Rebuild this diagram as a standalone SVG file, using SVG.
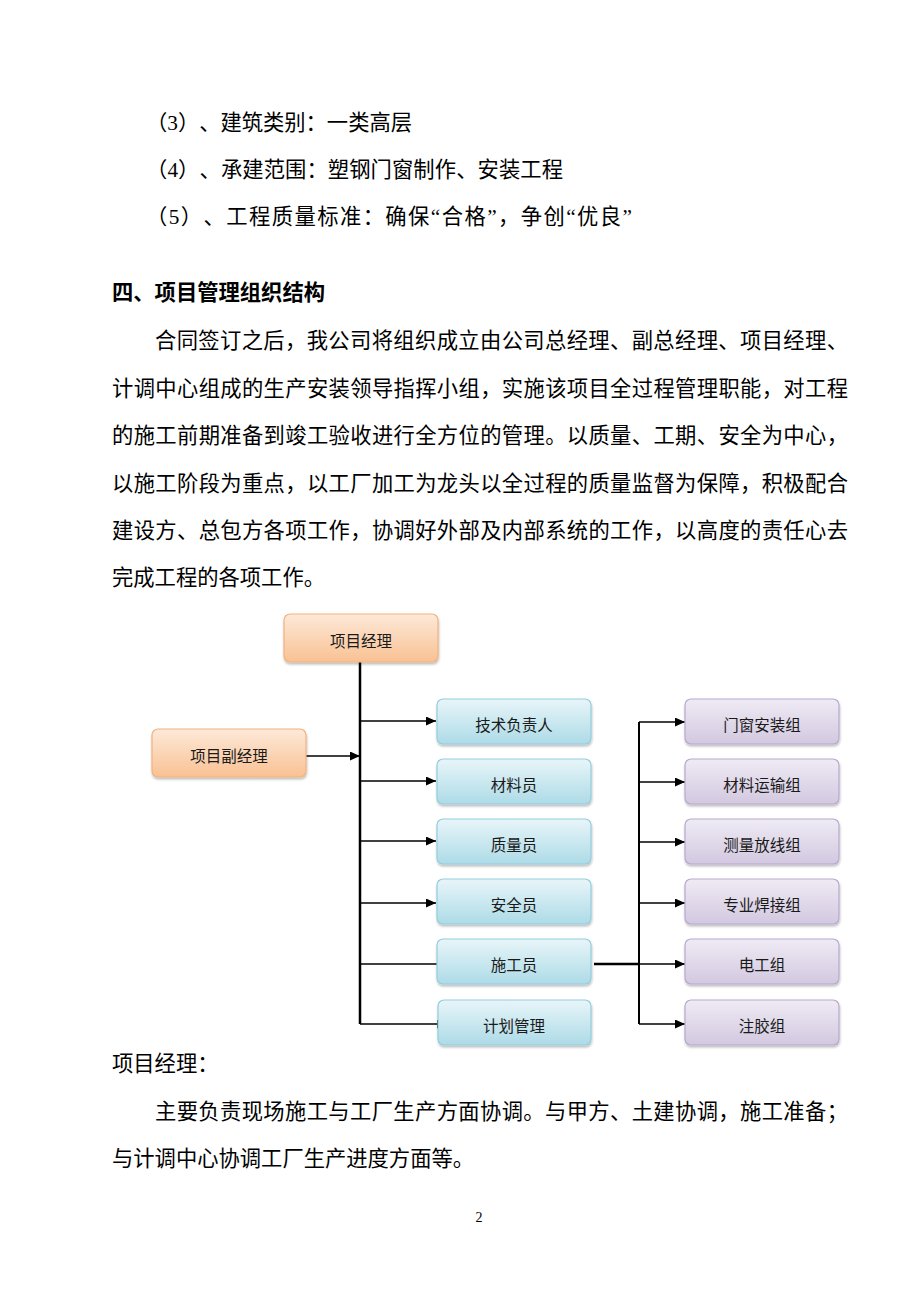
<svg xmlns="http://www.w3.org/2000/svg" width="920" height="1302" viewBox="0 0 920 1302">
<style>
.body{font-family:"Liberation Serif","Noto Sans CJK SC",serif;font-size:21.3px;fill:#000;text-spacing-trim:space-all}
.head{font-family:"Noto Sans CJK SC",sans-serif;font-size:21.3px;font-weight:bold;fill:#000}
.lbl{font-family:"Noto Sans CJK SC",sans-serif;font-size:15.5px;fill:#1a1a1a;text-anchor:middle}
.pn{font-family:"Liberation Serif",serif;font-size:14px;fill:#000;text-anchor:middle}
.or{fill:url(#gOr);stroke:#f2b27e;stroke-width:1.2}
.bl{fill:url(#gBl);stroke:#93cddd;stroke-width:1.2}
.pu{fill:url(#gPu);stroke:#b7a8cf;stroke-width:1.2}
.trunk{stroke:#000;stroke-width:2.5;fill:none}
.br{stroke:#000;stroke-width:1.6;fill:none}
</style>
<defs>
<linearGradient id="gOr" x1="0" y1="0" x2="0" y2="1"><stop offset="0" stop-color="#fde9d9"/><stop offset="1" stop-color="#f9c193"/></linearGradient>
<linearGradient id="gBl" x1="0" y1="0" x2="0" y2="1"><stop offset="0" stop-color="#e8f5f9"/><stop offset="1" stop-color="#addbe7"/></linearGradient>
<linearGradient id="gPu" x1="0" y1="0" x2="0" y2="1"><stop offset="0" stop-color="#efebf4"/><stop offset="1" stop-color="#d2c8e0"/></linearGradient>
<filter id="sh" x="-10%" y="-10%" width="120%" height="140%"><feDropShadow dx="0.5" dy="2" stdDeviation="1.2" flood-color="#000" flood-opacity="0.25"/></filter>
<marker id="ah" markerUnits="userSpaceOnUse" markerWidth="11" markerHeight="10" refX="10" refY="4.5" orient="auto"><path d="M0,0 L10,4.5 L0,9 z" fill="#000"/></marker>
</defs>

<g id="text">
<text class="body" x="146" y="130" textLength="266" lengthAdjust="spacing">（3）、建筑类别：一类高层</text>
<text class="body" x="146" y="177" textLength="417" lengthAdjust="spacing">（4）、承建范围：塑钢门窗制作、安装工程</text>
<text class="body" x="146" y="224" textLength="486" lengthAdjust="spacing">（5）、工程质量标准：确保“合格”，争创“优良”</text>
<text class="head" x="112" y="300">四、项目管理组织结构</text>
<text class="body" x="155" y="348" textLength="693" lengthAdjust="spacing">合同签订之后，我公司将组织成立由公司总经理、副总经理、项目经理、</text>
<text class="body" x="112" y="396" textLength="736" lengthAdjust="spacing">计调中心组成的生产安装领导指挥小组，实施该项目全过程管理职能，对工程</text>
<text class="body" x="112" y="443" textLength="736" lengthAdjust="spacing">的施工前期准备到竣工验收进行全方位的管理。以质量、工期、安全为中心，</text>
<text class="body" x="112" y="491" textLength="736" lengthAdjust="spacing">以施工阶段为重点，以工厂加工为龙头以全过程的质量监督为保障，积极配合</text>
<text class="body" x="112" y="538" textLength="736" lengthAdjust="spacing">建设方、总包方各项工作，协调好外部及内部系统的工作，以高度的责任心去</text>
<text class="body" x="112" y="585">完成工程的各项工作。</text>
<text class="body" x="112" y="1071">项目经理：</text>
<text class="body" x="155" y="1119" textLength="693" lengthAdjust="spacing">主要负责现场施工与工厂生产方面协调。与甲方、土建协调，施工准备；</text>
<text class="body" x="112" y="1166">与计调中心协调工厂生产进度方面等。</text>
<text class="pn" x="479" y="1222">2</text>
</g>

<g id="connectors">
<line class="trunk" x1="360" y1="662" x2="360" y2="1024"/>
<line class="br" x1="306" y1="756" x2="360" y2="756" marker-end="url(#ah)"/>
<line class="br" x1="360" y1="721" x2="436" y2="721" marker-end="url(#ah)"/>
<line class="br" x1="360" y1="781" x2="436" y2="781" marker-end="url(#ah)"/>
<line class="br" x1="360" y1="841" x2="436" y2="841" marker-end="url(#ah)"/>
<line class="br" x1="360" y1="903" x2="436" y2="903" marker-end="url(#ah)"/>
<line class="br" x1="360" y1="964" x2="447" y2="964" marker-end="url(#ah)"/>
<line class="br" x1="360" y1="1024" x2="447" y2="1024" marker-end="url(#ah)"/>
<line class="trunk" x1="639" y1="722" x2="639" y2="1024" style="stroke-width:2"/>
<line class="trunk" x1="594" y1="964" x2="639" y2="964"/>
<line class="br" x1="639" y1="722" x2="685" y2="722" marker-end="url(#ah)"/>
<line class="br" x1="639" y1="782" x2="685" y2="782" marker-end="url(#ah)"/>
<line class="br" x1="639" y1="842" x2="685" y2="842" marker-end="url(#ah)"/>
<line class="br" x1="639" y1="903" x2="685" y2="903" marker-end="url(#ah)"/>
<line class="br" x1="639" y1="964" x2="685" y2="964" marker-end="url(#ah)"/>
<line class="br" x1="639" y1="1024" x2="685" y2="1024" marker-end="url(#ah)"/>
</g>

<g id="n-pm"><rect class="or" filter="url(#sh)" x="284" y="614" width="154" height="48" rx="6"/><text class="lbl" x="361" y="647">项目经理</text></g>
<g id="n-vpm"><rect class="or" filter="url(#sh)" x="152" y="729" width="154" height="48" rx="6"/><text class="lbl" x="229" y="762">项目副经理</text></g>

<g id="n-tech"><rect class="bl" filter="url(#sh)" x="437" y="699" width="154" height="45" rx="6"/><text class="lbl" x="514" y="731">技术负责人</text></g>
<g id="n-mat"><rect class="bl" filter="url(#sh)" x="437" y="759" width="154" height="45" rx="6"/><text class="lbl" x="514" y="791">材料员</text></g>
<g id="n-qual"><rect class="bl" filter="url(#sh)" x="437" y="819" width="154" height="45" rx="6"/><text class="lbl" x="514" y="851">质量员</text></g>
<g id="n-safe"><rect class="bl" filter="url(#sh)" x="437" y="879" width="154" height="45" rx="6"/><text class="lbl" x="514" y="911">安全员</text></g>
<g id="n-cons"><rect class="bl" filter="url(#sh)" x="437" y="939" width="154" height="45" rx="6"/><text class="lbl" x="514" y="971">施工员</text></g>
<g id="n-plan"><rect class="bl" filter="url(#sh)" x="438" y="1000" width="153" height="45" rx="6"/><text class="lbl" x="514" y="1032">计划管理</text></g>

<g id="n-door"><rect class="pu" filter="url(#sh)" x="685" y="699" width="154" height="45" rx="6"/><text class="lbl" x="762" y="731">门窗安装组</text></g>
<g id="n-trans"><rect class="pu" filter="url(#sh)" x="685" y="759" width="154" height="45" rx="6"/><text class="lbl" x="762" y="791">材料运输组</text></g>
<g id="n-survey"><rect class="pu" filter="url(#sh)" x="685" y="819" width="154" height="45" rx="6"/><text class="lbl" x="762" y="851">测量放线组</text></g>
<g id="n-weld"><rect class="pu" filter="url(#sh)" x="685" y="879" width="154" height="45" rx="6"/><text class="lbl" x="762" y="911">专业焊接组</text></g>
<g id="n-elec"><rect class="pu" filter="url(#sh)" x="685" y="939" width="154" height="45" rx="6"/><text class="lbl" x="762" y="971">电工组</text></g>
<g id="n-glue"><rect class="pu" filter="url(#sh)" x="685" y="1000" width="154" height="45" rx="6"/><text class="lbl" x="762" y="1032">注胶组</text></g>
</svg>
